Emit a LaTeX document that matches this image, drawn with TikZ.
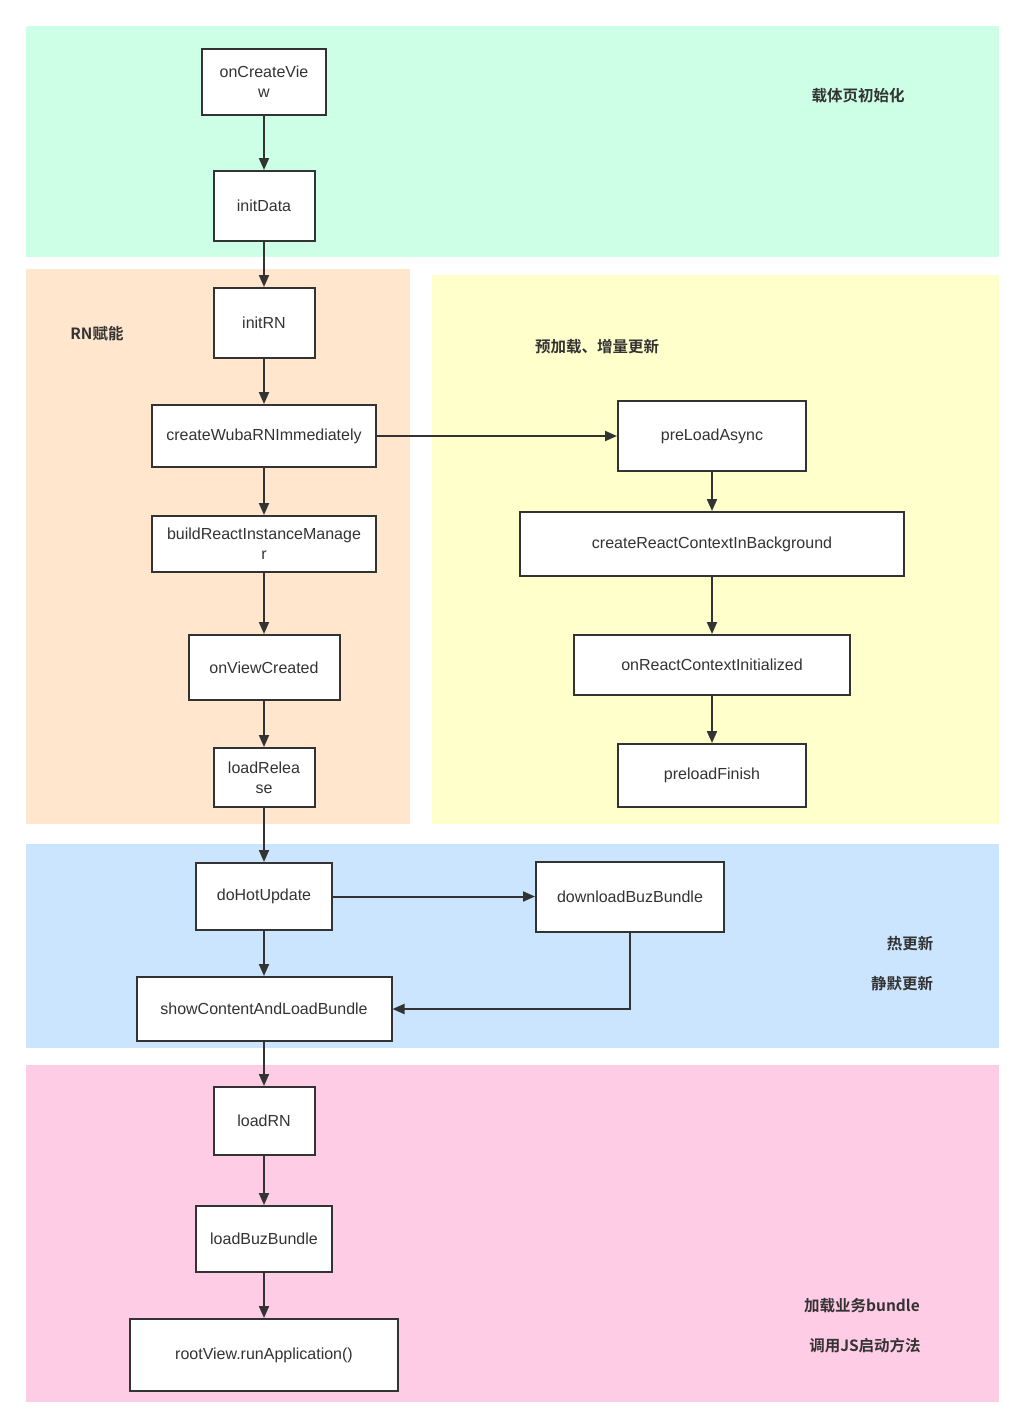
\documentclass[tikz,border=0pt]{standalone}
\usepackage{fontspec}
\setmainfont{Liberation Sans}
\newfontfamily\cjk{Noto Sans CJK SC}[BoldFont={Noto Sans CJK SC Bold}]
\usetikzlibrary{arrows.meta}
\definecolor{lc}{HTML}{333333}
\definecolor{bggreen}{HTML}{CCFFE6}
\definecolor{bgorange}{HTML}{FFE6CC}
\definecolor{bgyellow}{HTML}{FFFFCC}
\definecolor{bgblue}{HTML}{CCE5FF}
\definecolor{bgpink}{HTML}{FFCCE6}
\begin{document}
\begin{tikzpicture}[x=1pt,y=-1pt,
  box/.style={draw=lc, fill=white, line width=2pt, inner sep=0pt, align=center,
    font=\fontsize{16}{20}\selectfont, text=lc},
  lbl/.style={font=\cjk\bfseries\fontsize{15.5}{18}\selectfont, text=lc, inner sep=0pt},
  conn/.style={draw=lc, line width=2pt, -{Triangle[length=12pt,width=10pt]}}]
\useasboundingbox (0,0) rectangle (1026,1428);
\fill[white] (0,0) rectangle (1026,1428);
% regions
\fill[bggreen] (26,26) rectangle (999,257);
\fill[bgorange] (26,269) rectangle (410,824);
\fill[bgyellow] (432,275) rectangle (999,824);
\fill[bgblue] (26,844) rectangle (999,1048);
\fill[bgpink] (26,1065) rectangle (999,1402);
% labels
\node[lbl] (l1) at (858,96) {载体页初始化};
\node[lbl] (l2) at (97,334) {RN赋能};
\node[lbl] (l3) at (597,347) {预加载、增量更新};
\node[lbl] (l4) at (910,944) {热更新};
\node[lbl] (l5) at (902,984) {静默更新};
\node[lbl] (l6) at (862,1306) {加载业务bundle};
\node[lbl] (l7) at (865,1346) {调用JS启动方法};
% nodes
\node[box, minimum width=124, minimum height=66] (ocv) at (264,82) {onCreateVie\\w};
\node[box, minimum width=101, minimum height=70] (initData) at (264,206) {initData};
\node[box, minimum width=101, minimum height=70] (initRN) at (264,323) {initRN};
\node[box, minimum width=224, minimum height=62] (cwr) at (264,436) {createWubaRNImmediately};
\node[box, minimum width=224, minimum height=56] (brim) at (264,544) {buildReactInstanceManage\\r};
\node[box, minimum width=151, minimum height=65] (ovc) at (264,667.5) {onViewCreated};
\node[box, minimum width=101, minimum height=59] (lr) at (264,777.5) {loadRelea\\se};
\node[box, minimum width=188, minimum height=70] (pla) at (712,436) {preLoadAsync};
\node[box, minimum width=384, minimum height=64] (crc) at (712,544) {createReactContextInBackground};
\node[box, minimum width=276, minimum height=60] (orci) at (712,665) {onReactContextInitialized};
\node[box, minimum width=188, minimum height=63] (pf) at (712,775.5) {preloadFinish};
\node[box, minimum width=136, minimum height=67] (dhu) at (264,896.5) {doHotUpdate};
\node[box, minimum width=188, minimum height=70] (dbb) at (630,897) {downloadBuzBundle};
\node[box, minimum width=255, minimum height=64] (scl) at (264,1009) {showContentAndLoadBundle};
\node[box, minimum width=101, minimum height=68] (lrn) at (264,1121) {loadRN};
\node[box, minimum width=136, minimum height=66] (lbb) at (264,1239) {loadBuzBundle};
\node[box, minimum width=268, minimum height=72] (rv) at (264,1355) {rootView.runApplication()};
% connectors
\draw[conn] (ocv) -- (initData);
\draw[conn] (initData) -- (initRN);
\draw[conn] (initRN) -- (cwr);
\draw[conn] (cwr) -- (brim);
\draw[conn] (brim) -- (ovc);
\draw[conn] (ovc) -- (lr);
\draw[conn] (lr) -- (dhu);
\draw[conn] (dhu) -- (scl);
\draw[conn] (scl) -- (lrn);
\draw[conn] (lrn) -- (lbb);
\draw[conn] (lbb) -- (rv);
\draw[conn] (cwr) -- (pla);
\draw[conn] (pla) -- (crc);
\draw[conn] (crc) -- (orci);
\draw[conn] (orci) -- (pf);
\draw[conn] (dhu.east) -- (dbb.west |- dhu.east);
\draw[conn] (dbb.south) |- (scl.east);
\end{tikzpicture}
\end{document}
